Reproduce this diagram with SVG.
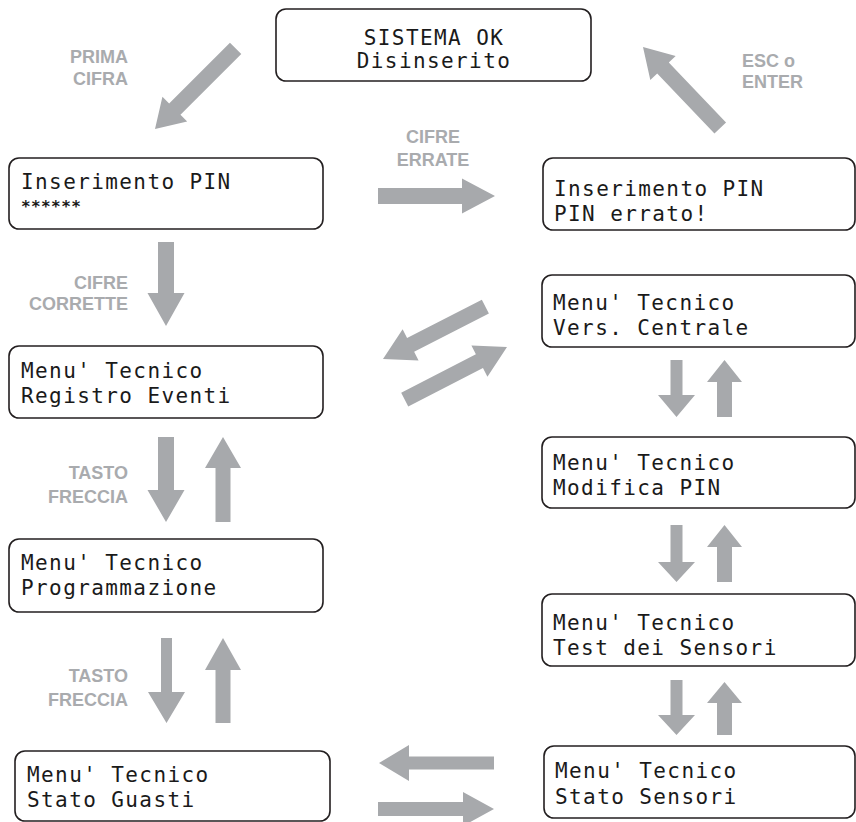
<svg xmlns="http://www.w3.org/2000/svg" width="856" height="822" viewBox="0 0 856 822">
<style>
.box{fill:#ffffff;stroke:#231f20;stroke-width:1.6}
.lcd{font-family:"DejaVu Sans Mono","Liberation Mono",monospace;font-size:21px;letter-spacing:1.4px;fill:#1a1a1a}
.ast{font-family:"DejaVu Sans Mono","Liberation Mono",monospace;font-size:16px;letter-spacing:0.4px;font-weight:bold;fill:#1a1a1a}
.lbl{font-family:"Liberation Sans",Arial,sans-serif;font-size:18px;font-weight:bold;fill:#a9abae}
.arr{fill:#a7a9ac}
</style>
<rect width="856" height="822" fill="#ffffff"/>
<g id="connectors">
  <path class="arr" transform="translate(155,129) rotate(135)" d="M0,0 L-28,-17.5 L-28,-8 L-114,-8 L-114,8 L-28,8 L-28,17.5Z"/>
  <path class="arr" d="M495,196 L462,178.5 L462,188 L378,188 L378,204 L462,204 L462,213.5Z"/>
  <path class="arr" transform="translate(643,47) rotate(-133.6)" d="M0,0 L-29,-17.5 L-29,-8 L-112,-8 L-112,8 L-29,8 L-29,17.5Z"/>
  <path class="arr" d="M166,326 L147.5,293 L158,293 L158,242 L174,242 L174,293 L184.5,293Z"/>
  <path class="arr" transform="translate(383,359) rotate(152.9)" d="M0,0 L-31,-17.5 L-31,-7.75 L-115,-7.75 L-115,7.75 L-31,7.75 L-31,17.5Z"/>
  <path class="arr" transform="translate(507,347) rotate(-27.2)" d="M0,0 L-31,-17.5 L-31,-7.75 L-115,-7.75 L-115,7.75 L-31,7.75 L-31,17.5Z"/>
  <path class="arr" d="M166,522 L147.5,490 L158,490 L158,437 L174,437 L174,490 L184.5,490Z"/>
  <path class="arr" d="M223,437 L241,468 L230.5,468 L230.5,522 L215.5,522 L215.5,468 L205,468Z"/>
  <path class="arr" d="M166.5,723 L148,692 L161,692 L161,638 L172,638 L172,692 L185,692Z"/>
  <path class="arr" d="M223,638 L241,670 L230.5,670 L230.5,723 L215.5,723 L215.5,670 L205,670Z"/>
  <path class="arr" d="M676.5,417 L658,395 L670.5,395 L670.5,360 L682.5,360 L682.5,395 L695,395Z"/>
  <path class="arr" d="M724.5,360 L742,382 L732,382 L732,417 L717,417 L717,382 L707,382Z"/>
  <path class="arr" d="M676.5,582 L658,562 L670.5,562 L670.5,525 L682.5,525 L682.5,562 L695,562Z"/>
  <path class="arr" d="M724.5,525 L742,547 L732,547 L732,582 L717,582 L717,547 L707,547Z"/>
  <path class="arr" d="M676.5,735 L658,715 L670.5,715 L670.5,680 L682.5,680 L682.5,715 L695,715Z"/>
  <path class="arr" d="M724.5,682 L742,703 L732,703 L732,735 L717,735 L717,703 L707,703Z"/>
  <path class="arr" d="M379,763 L409,745 L409,756.5 L494,756.5 L494,769.5 L409,769.5 L409,781Z"/>
  <path class="arr" d="M494,809 L463,792 L463,802 L378,802 L378,816 L463,816 L463,826Z"/>
</g>
<g id="labels">
  <text class="lbl" x="128" y="63" text-anchor="end">PRIMA</text>
  <text class="lbl" x="128" y="85" text-anchor="end">CIFRA</text>
  <text class="lbl" x="433" y="143" text-anchor="middle">CIFRE</text>
  <text class="lbl" x="433" y="166" text-anchor="middle">ERRATE</text>
  <text class="lbl" x="742" y="67">ESC o</text>
  <text class="lbl" x="742" y="88">ENTER</text>
  <text class="lbl" x="128" y="289" text-anchor="end">CIFRE</text>
  <text class="lbl" x="128" y="310" text-anchor="end">CORRETTE</text>
  <text class="lbl" x="128" y="479" text-anchor="end">TASTO</text>
  <text class="lbl" x="128" y="503" text-anchor="end">FRECCIA</text>
  <text class="lbl" x="128" y="682" text-anchor="end">TASTO</text>
  <text class="lbl" x="128" y="706" text-anchor="end">FRECCIA</text>
</g>
<g id="node-sistema">
  <rect class="box" x="276" y="9" width="315" height="72" rx="10"/>
  <text class="lcd" x="434" y="45" text-anchor="middle">SISTEMA OK</text>
  <text class="lcd" x="434" y="68" text-anchor="middle">Disinserito</text>
</g>
<g id="node-inserimento">
  <rect class="box" x="9" y="158" width="314" height="71" rx="10"/>
  <text class="lcd" x="21" y="189">Inserimento PIN</text>
  <text class="ast" x="21" y="212">******</text>
</g>
<g id="node-pin-errato">
  <rect class="box" x="543" y="158" width="312" height="72" rx="10"/>
  <text class="lcd" x="554" y="196">Inserimento PIN</text>
  <text class="lcd" x="554" y="221">PIN errato!</text>
</g>
<g id="node-registro">
  <rect class="box" x="9" y="346" width="314" height="72" rx="10"/>
  <text class="lcd" x="21" y="378">Menu' Tecnico</text>
  <text class="lcd" x="21" y="403">Registro Eventi</text>
</g>
<g id="node-versione">
  <rect class="box" x="542" y="275" width="313" height="72" rx="10"/>
  <text class="lcd" x="553" y="310">Menu' Tecnico</text>
  <text class="lcd" x="553" y="335">Vers. Centrale</text>
</g>
<g id="node-modifica">
  <rect class="box" x="542" y="437" width="313" height="71" rx="10"/>
  <text class="lcd" x="553" y="470">Menu' Tecnico</text>
  <text class="lcd" x="553" y="495">Modifica PIN</text>
</g>
<g id="node-programmazione">
  <rect class="box" x="9" y="539" width="314" height="73" rx="10"/>
  <text class="lcd" x="21" y="570">Menu' Tecnico</text>
  <text class="lcd" x="21" y="595">Programmazione</text>
</g>
<g id="node-test">
  <rect class="box" x="542" y="594" width="313" height="72" rx="10"/>
  <text class="lcd" x="553" y="630">Menu' Tecnico</text>
  <text class="lcd" x="553" y="655">Test dei Sensori</text>
</g>
<g id="node-guasti">
  <rect class="box" x="15" y="751" width="315" height="70" rx="10"/>
  <text class="lcd" x="27" y="782">Menu' Tecnico</text>
  <text class="lcd" x="27" y="807">Stato Guasti</text>
</g>
<g id="node-sensori">
  <rect class="box" x="544" y="746" width="311" height="72" rx="10"/>
  <text class="lcd" x="555" y="778">Menu' Tecnico</text>
  <text class="lcd" x="555" y="804">Stato Sensori</text>
</g>
</svg>
